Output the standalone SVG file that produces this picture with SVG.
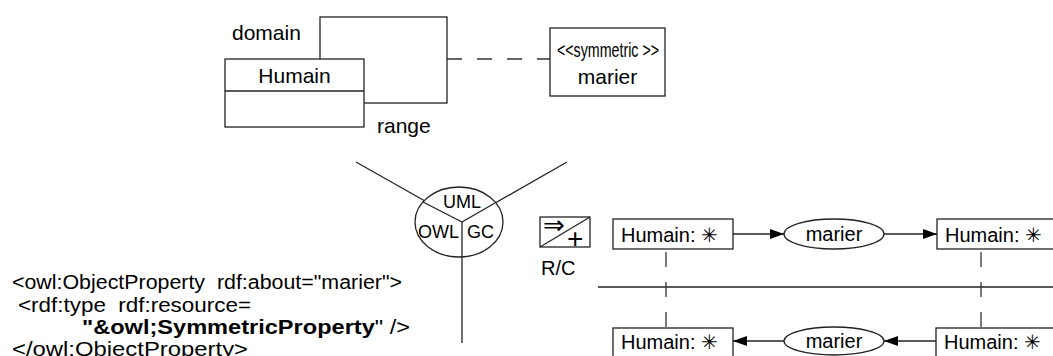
<svg xmlns="http://www.w3.org/2000/svg" width="1053" height="356" viewBox="0 0 1053 356">
<defs>
<style>
text{font-family:"Liberation Sans",Arial,sans-serif;fill:#000;font-size:20px}
.ln{stroke:#222;stroke-width:1.3;fill:none}
.bx{stroke:#222;stroke-width:1.3;fill:#fff}
.dash{stroke:#333;stroke-width:1.3;fill:none;stroke-dasharray:15,15}
.sym{font-family:"DejaVu Sans",sans-serif}
.b{font-weight:bold}
.f21{font-size:21px}
.f18{font-size:18px}
</style>
<marker id="ah" viewBox="0 0 14 10" refX="14" refY="5" markerWidth="14" markerHeight="10" markerUnits="userSpaceOnUse" orient="auto">
<path d="M0,0 L14,5 L0,10 Z" fill="#000"/>
</marker>
</defs>

<g id="connectors">
<path class="dash" d="M447,59 L550,59"/>
<line class="ln" x1="356" y1="162" x2="462" y2="222"/>
<line class="ln" x1="567" y1="162" x2="462" y2="222"/>
<line class="ln" x1="462" y1="222" x2="462" y2="343"/>
<line class="ln" x1="598" y1="287" x2="1053" y2="287"/>
<line class="dash" x1="666" y1="252" x2="666" y2="328"/>
<line class="dash" x1="981" y1="252" x2="981" y2="328"/>
<line class="ln" x1="733" y1="234" x2="784" y2="234" marker-end="url(#ah)"/>
<line class="ln" x1="884" y1="234" x2="937" y2="234" marker-end="url(#ah)"/>
<line class="ln" x1="937" y1="341" x2="884" y2="341" marker-end="url(#ah)"/>
<line class="ln" x1="784" y1="341" x2="733" y2="341" marker-end="url(#ah)"/>
</g>

<g id="range-box">
<rect class="bx" x="320" y="17" width="127" height="86"/>
</g>
<g id="humain-class">
<rect class="bx" x="225" y="59" width="139" height="68"/>
<line class="ln" x1="225" y1="91" x2="364" y2="91"/>
<text class="f21" x="294.5" y="83" text-anchor="middle">Humain</text>
</g>
<g id="labels">
<text class="f21" x="232" y="40">domain</text>
<text class="f21" x="377" y="133">range</text>
</g>

<g id="symmetric-marier">
<rect class="bx" x="550" y="28" width="115" height="68"/>
<text x="608" y="57" text-anchor="middle" textLength="102" lengthAdjust="spacingAndGlyphs">&lt;&lt;symmetric &gt;&gt;</text>
<text class="f21" x="607.5" y="84" text-anchor="middle">marier</text>
</g>

<g id="languages">
<ellipse class="bx" cx="459" cy="222" rx="44" ry="35"/>
<line class="ln" x1="423" y1="202" x2="462" y2="222"/>
<line class="ln" x1="495" y1="203" x2="462" y2="222"/>
<line class="ln" x1="462" y1="222" x2="462" y2="257"/>
<text class="f18" x="462" y="208" text-anchor="middle">UML</text>
<text class="f18" x="418" y="238">OWL</text>
<text class="f18" x="467" y="238">GC</text>
</g>

<g id="owl-code">
<text x="12" y="289" xml:space="preserve" textLength="390" lengthAdjust="spacingAndGlyphs">&lt;owl:ObjectProperty  rdf:about="marier"&gt;</text>
<text x="18" y="311.5" xml:space="preserve" textLength="233" lengthAdjust="spacingAndGlyphs">&lt;rdf:type  rdf:resource=</text>
<text x="82" y="334" xml:space="preserve" textLength="328" lengthAdjust="spacingAndGlyphs"><tspan class="b">"&amp;owl;SymmetricProperty</tspan>" /&gt;</text>
<text x="12" y="355.5" textLength="236" lengthAdjust="spacingAndGlyphs">&lt;/owl:ObjectProperty&gt;</text>
</g>

<g id="rc-icon">
<rect class="bx" x="540" y="217" width="50" height="30"/>
<line class="ln" x1="540" y1="247" x2="590" y2="217"/>
<text x="543" y="234" class="sym" style="font-size:26px">⇒</text>
<text x="567" y="248" style="font-size:28px">+</text>
<text x="541" y="275">R/C</text>
</g>

<g id="humain-1">
<rect class="bx" x="613" y="219" width="120" height="30"/>
<text x="621" y="242">Humain: <tspan class="sym">✳</tspan></text>
</g>
<g id="marier-1">
<ellipse class="bx" cx="834" cy="234" rx="50" ry="15"/>
<text x="834" y="241" text-anchor="middle">marier</text>
</g>
<g id="humain-2">
<rect class="bx" x="937" y="219" width="130" height="30"/>
<text x="945" y="242">Humain: <tspan class="sym">✳</tspan></text>
</g>
<g id="humain-3">
<rect class="bx" x="613" y="328" width="120" height="40"/>
<text x="621" y="349">Humain: <tspan class="sym">✳</tspan></text>
</g>
<g id="marier-2">
<ellipse class="bx" cx="834" cy="341" rx="50" ry="14"/>
<text x="834" y="348" text-anchor="middle">marier</text>
</g>
<g id="humain-4">
<rect class="bx" x="936" y="328" width="130" height="40"/>
<text x="944" y="349">Humain: <tspan class="sym">✳</tspan></text>
</g>
</svg>
